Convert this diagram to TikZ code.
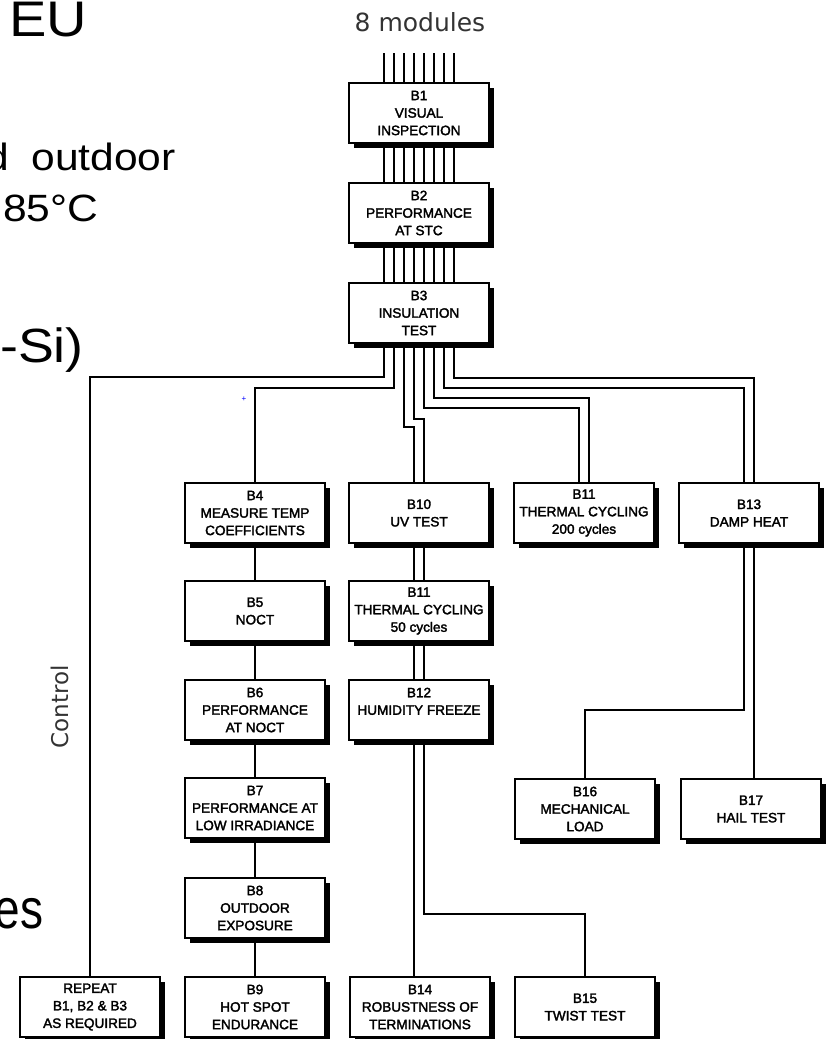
\documentclass[tikz,border=0pt]{standalone}
\usepackage{fontspec}
\setmainfont{Liberation Sans}
\newfontfamily\labfont{DejaVu Sans}
\newfontfamily\slidefont[FakeStretch=1.12]{Liberation Sans}
\newfontfamily\plainslide{Liberation Sans}
\newfontfamily\boxff[FakeBold=2.2]{Liberation Sans}
\usetikzlibrary{shadows,calc}
\newcommand{\boxfont}{\boxff\fontsize{13.6}{17.5}\selectfont}
\tikzset{
  tbox/.style={draw, line width=1.2pt, fill=white, minimum width=140pt, minimum height=60pt,
    inner sep=0pt, align=center, font=\boxfont,
    drop shadow={shadow xshift=4.5pt, shadow yshift=-4.5pt, opacity=1, fill=black}},
  wire/.style={line width=1.1pt},
  slidetext/.style={inner sep=0pt, anchor=base west},
}
\begin{document}
\begin{tikzpicture}[x=1pt, y=-1pt]
\useasboundingbox (0,0) rectangle (825,1039);
% slide fragments
\node[slidetext, font={\slidefont\fontsize{50}{60}\selectfont}] (eu) at (9,36) {EU};
\node[slidetext, anchor=base east, font={\slidefont\fontsize{38}{44}\selectfont}] (outd) at (176,170) {d\hspace{22pt}outdoor};
\node[slidetext, font={\slidefont\fontsize{38}{44}\selectfont}] (temp) at (3,221) {85°C};
\node[slidetext, font={\slidefont\fontsize{48}{58}\selectfont}] (si) at (0,362) {-Si)};
\node[slidetext, font={\plainslide\fontsize{46}{50}\selectfont}] (es) at (-5.5,928) {\scalebox{1}[1.22]{es}};
% labels
\node[font={\labfont\fontsize{25}{30}\selectfont}, text=black!80] (mods) at (420,22) {8 modules};
\node[font={\labfont\fontsize{23}{28}\selectfont}, text=black!80, rotate=90] (ctrl) at (60,707) {Control};
\node[text=blue, inner sep=0pt, font=\fontsize{8}{8}\selectfont] (dot) at (244,399) {+};
% module coordinates
\foreach \i in {0,...,7} { \coordinate (m\i) at (384+10*\i,53); }
% boxes
\node[tbox] (B1) at (419,113) {B1\\VISUAL\\INSPECTION};
\node[tbox] (B2) at (419,213) {B2\\PERFORMANCE\\AT STC};
\node[tbox] (B3) at (419,313) {B3\\INSULATION\\TEST};
\node[tbox] (B4) at (255,513) {B4\\MEASURE TEMP\\COEFFICIENTS};
\node[tbox] (B5) at (255,611) {B5\\NOCT};
\node[tbox] (B6) at (255,710) {B6\\PERFORMANCE\\AT NOCT};
\node[tbox] (B7) at (255,808) {B7\\PERFORMANCE AT\\LOW IRRADIANCE};
\node[tbox] (B8) at (255,908) {B8\\OUTDOOR\\EXPOSURE};
\node[tbox] (B9) at (255,1007) {B9\\HOT SPOT\\ENDURANCE};
\node[tbox] (REP) at (90,1007) {REPEAT\\B1, B2 \& B3\\AS REQUIRED};
\node[tbox] (B10) at (419,513) {B10\\UV TEST};
\node[tbox] (B11b) at (419,611) {B11\\THERMAL CYCLING\\50 cycles};
\node[tbox] (B12) at (419,710) {B12\\HUMIDITY FREEZE\\\mbox{}};
\node[tbox] (B14) at (420,1007) {B14\\ROBUSTNESS OF\\TERMINATIONS};
\node[tbox] (B11a) at (584,513) {B11\\THERMAL CYCLING\\200 cycles};
\node[tbox] (B16) at (585,809) {B16\\MECHANICAL\\LOAD};
\node[tbox] (B15) at (585,1007) {B15\\TWIST TEST};
\node[tbox] (B13) at (749,513) {B13\\DAMP HEAT};
\node[tbox] (B17) at (751,809) {B17\\HAIL TEST};
% module bundle
\foreach \i in {0,...,7} {
  \draw[wire] (m\i) -- (m\i |- B1.north);
  \draw[wire] (m\i |- B1.south) -- (m\i |- B2.north);
  \draw[wire] (m\i |- B2.south) -- (m\i |- B3.north);
}
% distribution from B3
\draw[wire] (m0 |- B3.south) -- (m0 |- 0,377) -| (REP.north);
\draw[wire] (m1 |- B3.south) -- (m1 |- 0,388) -| (B4.north);
\draw[wire] (m2 |- B3.south) -- (m2 |- 0,427) -| (m3 |- B10.north);
\draw[wire] (m3 |- B3.south) -- (m3 |- 0,419) -| (m4 |- B10.north);
\draw[wire] (m4 |- B3.south) -- (m4 |- 0,408) -| ([xshift=-5pt]B11a.north);
\draw[wire] (m5 |- B3.south) -- (m5 |- 0,398) -| ([xshift=5pt]B11a.north);
\draw[wire] (m6 |- B3.south) -- (m6 |- 0,388) -| ([xshift=-5pt]B13.north);
\draw[wire] (m7 |- B3.south) -- (m7 |- 0,378) -| ([xshift=5pt]B13.north);
% left column
\draw[wire] (B4.south) -- (B5.north);
\draw[wire] (B5.south) -- (B6.north);
\draw[wire] (B6.south) -- (B7.north);
\draw[wire] (B7.south) -- (B8.north);
\draw[wire] (B8.south) -- (B9.north);
% middle column
\foreach \s in {-5,5} {
  \draw[wire] ([xshift=\s pt]B10.south) -- ([xshift=\s pt]B11b.north);
  \draw[wire] ([xshift=\s pt]B11b.south) -- ([xshift=\s pt]B12.north);
}
\coordinate (b12l) at ([xshift=-5pt]B12.south);
\coordinate (b12r) at ([xshift=5pt]B12.south);
\draw[wire] (b12l) -- (b12l |- B14.north);
\draw[wire] (b12r) -- (b12r |- 0,914) -| (B15.north);
% right column
\coordinate (b13l) at ([xshift=-5pt]B13.south);
\coordinate (b13r) at ([xshift=5pt]B13.south);
\draw[wire] (b13l) -- (b13l |- 0,710) -| (B16.north);
\draw[wire] (b13r) -- (b13r |- B17.north);
\end{tikzpicture}
\end{document}
